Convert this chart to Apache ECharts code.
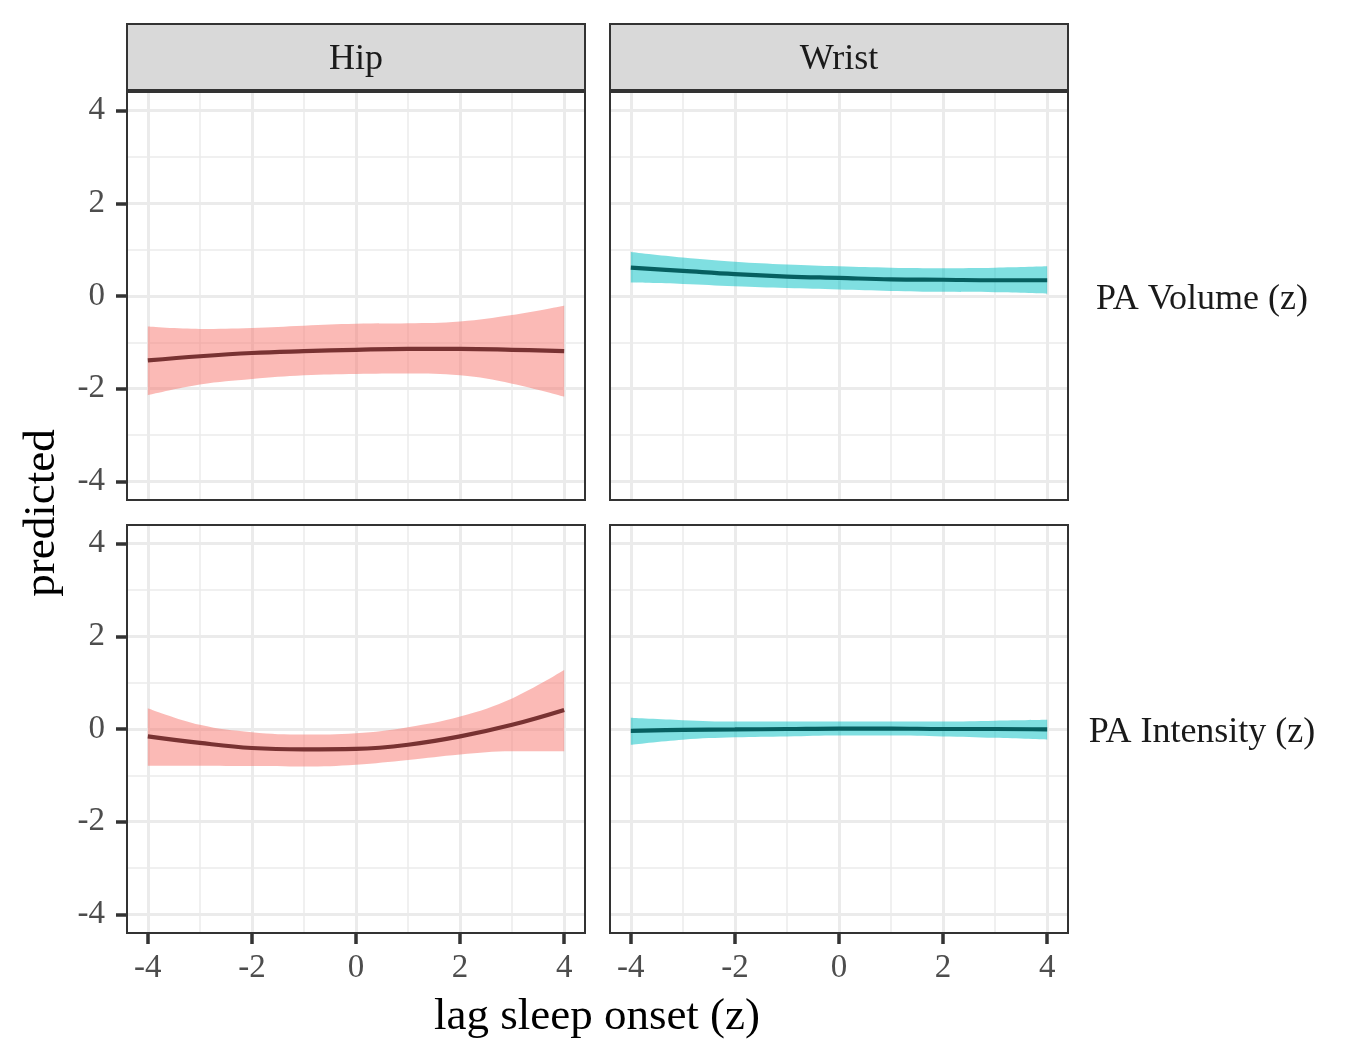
<!DOCTYPE html>
<html>
<head>
<meta charset="utf-8">
<script src="https://cdn.jsdelivr.net/npm/echarts@6/dist/echarts.min.js"></script>
<style>
  html, body { margin: 0; padding: 0; background: #ffffff; }
  #chart { width: 1358px; height: 1062px; }
</style>
</head>
<body>
<div id="chart"></div>
<script>
// x values (lag sleep onset, z)
const lagOnset = [-4, -3, -2, -1, 0, 1, 2, 3, 4];

// Hip / PA Volume
const hipVolumeFit   = [-1.39, -1.30, -1.23, -1.19, -1.16, -1.14, -1.14, -1.16, -1.19];
const hipVolumeLower = [-2.14, -1.91, -1.79, -1.71, -1.68, -1.67, -1.71, -1.89, -2.17];
const hipVolumeUpper = [-0.66, -0.71, -0.69, -0.64, -0.60, -0.59, -0.55, -0.41, -0.21];

// Wrist / PA Volume
const wristVolumeFit   = [0.61, 0.54, 0.47, 0.42, 0.39, 0.36, 0.35, 0.34, 0.34];
const wristVolumeLower = [0.29, 0.26, 0.21, 0.17, 0.14, 0.11, 0.09, 0.08, 0.05];
const wristVolumeUpper = [0.95, 0.83, 0.74, 0.68, 0.64, 0.61, 0.60, 0.61, 0.64];

// Hip / PA Intensity
const hipIntensityFit   = [-0.16, -0.30, -0.41, -0.44, -0.43, -0.34, -0.16, 0.09, 0.41];
const hipIntensityLower = [-0.79, -0.79, -0.80, -0.81, -0.77, -0.67, -0.55, -0.48, -0.48];
const hipIntensityUpper = [0.45, 0.09, -0.07, -0.12, -0.09, 0.04, 0.27, 0.66, 1.27];

// Wrist / PA Intensity
const wristIntensityFit   = [-0.04, -0.02, -0.01, 0.00, 0.01, 0.01, 0.00, 0.00, -0.01];
const wristIntensityLower = [-0.34, -0.23, -0.18, -0.16, -0.14, -0.14, -0.16, -0.19, -0.23];
const wristIntensityUpper = [0.24, 0.19, 0.16, 0.16, 0.16, 0.16, 0.16, 0.18, 0.20];

const majorTicks = [-4, -2, 0, 2, 4];
const minorTicks = [-3, -1, 1, 3];
const columnLabels = ["Hip", "Wrist"];
const rowLabels = ["PA Volume (z)", "PA Intensity (z)"];

const FONT = "Liberation Serif";
const HIP_BAND = "rgba(248, 118, 109, 0.5)";
const HIP_LINE = "#783232";
const WRIST_BAND = "rgba(0, 191, 196, 0.5)";
const WRIST_LINE = "#065f60";

const PANEL_W = 458;
const PANEL_H = 408;
const colLeft = [127, 610];
const rowTop = [92, 525];

const panels = [
    { row: 0, col: 0, fit: hipVolumeFit, lower: hipVolumeLower, upper: hipVolumeUpper, band: HIP_BAND, line: HIP_LINE },
    { row: 0, col: 1, fit: wristVolumeFit, lower: wristVolumeLower, upper: wristVolumeUpper, band: WRIST_BAND, line: WRIST_LINE },
    { row: 1, col: 0, fit: hipIntensityFit, lower: hipIntensityLower, upper: hipIntensityUpper, band: HIP_BAND, line: HIP_LINE },
    { row: 1, col: 1, fit: wristIntensityFit, lower: wristIntensityLower, upper: wristIntensityUpper, band: WRIST_BAND, line: WRIST_LINE }
];

// rows are [y, x] so the stack runs on the y value (first numeric dimension)
function stackRows(values) {
    return lagOnset.map((x, i) => [values[i], x]);
}

function pairs(values) {
    return lagOnset.map((x, i) => [x, values[i]]);
}

function valueAxis(i, ticks, showTicks, major, labelMargin) {
    return {
        gridIndex: i,
        type: "value",
        min: -4.4,
        max: 4.4,
        axisLine: { show: false, onZero: false },
        axisTick: {
            show: showTicks,
            customValues: ticks,
            length: 11,
            lineStyle: { color: "#333333", width: 3.5 }
        },
        axisLabel: {
            show: showTicks,
            customValues: ticks,
            margin: labelMargin,
            color: "#4d4d4d",
            fontFamily: FONT,
            fontSize: 33
        },
        splitLine: {
            show: true,
            lineStyle: { color: "#ebebeb", width: major ? 3 : 1.5 }
        }
    };
}

const grids = [];
const xAxes = [];
const yAxes = [];
const series = [];
const graphics = [];

panels.forEach((p, i) => {
    grids.push({
        left: colLeft[p.col],
        top: rowTop[p.row],
        width: PANEL_W,
        height: PANEL_H,
        containLabel: false
    });
    xAxes.push(valueAxis(i, majorTicks, p.row === 1, true, 19));
    yAxes.push(valueAxis(i, majorTicks, p.col === 0, true, 22));
});

// minor grid lines on a second pair of axes per panel
panels.forEach((p, i) => {
    xAxes.push(valueAxis(i, minorTicks, false, false, 0));
    yAxes.push(valueAxis(i, minorTicks, false, false, 0));
});

panels.forEach((p, i) => {
    const stackName = "band" + i;

    series.push({
        type: "line",
        xAxisIndex: i,
        yAxisIndex: i,
        data: stackRows(p.lower),
        encode: { x: 1, y: 0 },
        stack: stackName,
        stackStrategy: "all",
        smooth: 0.4,
        symbol: "none",
        silent: true,
        lineStyle: { opacity: 0 },
        z: 2
    });

    series.push({
        type: "line",
        xAxisIndex: i,
        yAxisIndex: i,
        data: stackRows(p.upper.map((v, k) => v - p.lower[k])),
        encode: { x: 1, y: 0 },
        stack: stackName,
        stackStrategy: "all",
        smooth: 0.4,
        symbol: "none",
        silent: true,
        lineStyle: { opacity: 0 },
        areaStyle: { color: p.band, opacity: 1 },
        z: 2
    });

    series.push({
        type: "line",
        xAxisIndex: i,
        yAxisIndex: i,
        data: pairs(p.fit),
        smooth: 0.4,
        symbol: "none",
        silent: true,
        lineStyle: { color: p.line, width: 4.2 },
        z: 3
    });

    // panel border
    graphics.push({
        type: "rect",
        shape: { x: colLeft[p.col], y: rowTop[p.row], width: PANEL_W, height: PANEL_H },
        style: { fill: "none", stroke: "#333333", lineWidth: 2 },
        z: 100
    });
});

// column strips
columnLabels.forEach((label, c) => {
    graphics.push({
        type: "rect",
        shape: { x: colLeft[c], y: 24, width: PANEL_W, height: 66 },
        style: { fill: "#d9d9d9", stroke: "#333333", lineWidth: 2 },
        z: 100
    });
    graphics.push({
        type: "text",
        x: colLeft[c] + PANEL_W / 2,
        y: 60,
        style: {
            text: label,
            font: "36px '" + FONT + "'",
            fill: "#1a1a1a",
            align: "center",
            verticalAlign: "middle"
        },
        z: 101
    });
});

// row labels (no strip background)
rowLabels.forEach((label, r) => {
    graphics.push({
        type: "text",
        x: 1202,
        y: rowTop[r] + PANEL_H / 2 + 4,
        style: {
            text: label,
            font: "36px '" + FONT + "'",
            fill: "#1a1a1a",
            align: "center",
            verticalAlign: "middle"
        },
        z: 101
    });
});

// axis titles
graphics.push({
    type: "text",
    x: 597,
    y: 1017,
    style: {
        text: "lag sleep onset (z)",
        font: "45px '" + FONT + "'",
        fill: "#000000",
        align: "center",
        verticalAlign: "middle"
    },
    z: 101
});
graphics.push({
    type: "text",
    x: 42,
    y: 513,
    rotation: Math.PI / 2,
    style: {
        text: "predicted",
        font: "45px '" + FONT + "'",
        fill: "#000000",
        align: "center",
        verticalAlign: "middle"
    },
    z: 101
});

const chart = echarts.init(document.getElementById("chart"));

chart.setOption({
    backgroundColor: "#ffffff",
    animation: false,
    grid: grids,
    xAxis: xAxes,
    yAxis: yAxes,
    series: series,
    graphic: graphics
});
</script>
</body>
</html>
